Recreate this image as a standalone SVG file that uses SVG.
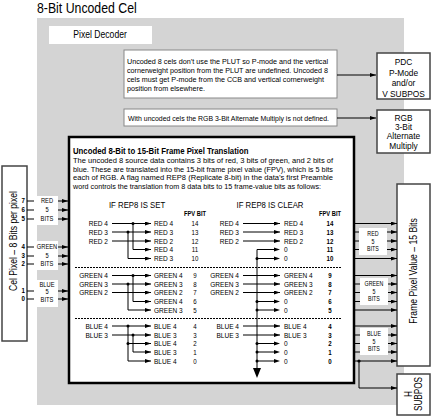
<svg xmlns="http://www.w3.org/2000/svg" width="432" height="417" viewBox="0 0 432 417">
<defs>
<marker id="ah" viewBox="0 0 6 4" refX="6" refY="2" markerWidth="6" markerHeight="4" markerUnits="userSpaceOnUse" orient="auto"><path d="M0,0 L6,2 L0,4z" fill="#000"/></marker>
<style>
text{font-family:"Liberation Sans",Arial,sans-serif;fill:#000}
.L{text-anchor:start;transform-box:fill-box;transform-origin:0% 50%;transform:scaleX(.82)}
.R{text-anchor:end;transform-box:fill-box;transform-origin:100% 50%;transform:scaleX(.82)}
.M{text-anchor:middle;transform-box:fill-box;transform-origin:50% 50%;transform:scaleX(.82)}
.M2{text-anchor:middle;transform-box:fill-box;transform-origin:50% 50%;transform:scaleX(.88)}
.ln{stroke:#000;stroke-width:1;fill:none}
.ar{stroke:#000;stroke-width:1;fill:none;marker-end:url(#ah)}
.lab{font-size:8px}
.num{font-size:7.5px}
.numb{font-size:7.5px;font-weight:bold}
.note{font-size:7.5px}
.para{font-size:8px}
.bx{font-size:9.5px}
.box{fill:#fff;stroke:#444;stroke-width:1.5}
.nbox{fill:#fff;stroke:#888;stroke-width:1}
.bl{font-size:7px}
.br{font-size:6.5px}
.dash{stroke:#000;stroke-width:1.2;stroke-dasharray:2,1;fill:none}
.bit{font-size:7.5px;font-weight:bold}
</style>
</defs>
<text class="L" x="37" y="13" font-size="15">8-Bit Uncoded Cel</text>
<rect x="37" y="18" width="367" height="387" fill="#d4d4d4"/>

<g id="pixel-decoder"><rect x="49" y="26" width="103" height="18" fill="#fff"/><text x="100" y="38.5" font-size="10.5" class="M">Pixel Decoder</text></g>

<g id="note1"><rect class="nbox" x="124" y="50" width="213" height="48"/>
<text class="note" x="127" y="64" textLength="201" lengthAdjust="spacingAndGlyphs">Uncoded 8 cels don’t use the PLUT so P-mode and the vertical</text>
<text class="note" x="127" y="73" textLength="201" lengthAdjust="spacingAndGlyphs">cornerweight position from the PLUT are undefined.  Uncoded 8</text>
<text class="note" x="127" y="82" textLength="197" lengthAdjust="spacingAndGlyphs">cels must get P-mode from the CCB and vertical cornerweight</text>
<text class="note" x="127" y="90.5" textLength="78" lengthAdjust="spacingAndGlyphs">position from elsewhere.</text></g>

<g id="note2"><rect class="nbox" x="124" y="109" width="213" height="17"/>
<text class="note" x="128" y="120.5" textLength="201" lengthAdjust="spacingAndGlyphs">With uncoded cels the RGB 3-Bit Alternate Multiply is not defined.</text></g>

<g id="pdc"><rect class="box" x="377" y="53" width="53" height="46"/>
<text x="403.5" y="65.5" class="M2 bx">PDC</text><text x="403.5" y="76" class="M2 bx">P-Mode</text><text x="403.5" y="86.5" class="M2 bx">and/or</text><text x="403.5" y="97" class="M2 bx">V SUBPOS</text></g>

<g id="rgb"><rect class="box" x="377" y="110" width="53" height="43"/>
<text x="403.5" y="121.5" class="M2 bx">RGB</text><text x="403.5" y="130.5" class="M2 bx">3-Bit</text><text x="403.5" y="139.5" class="M2 bx">Alternate</text><text x="403.5" y="149" class="M2 bx">Multiply</text></g>

<g id="cel-pixel"><rect class="box" x="2" y="166" width="25" height="175"/>
<text transform="translate(17,241) rotate(-90) scale(0.82,1)" text-anchor="middle" font-size="10.5">Cel Pixel – 8 Bits per pixel</text>
<text x="25" y="203.5" class="R bit">7</text><text x="25" y="212.5" class="R bit">6</text><text x="25" y="221.5" class="R bit">5</text>
<text x="25" y="249.5" class="R bit">4</text><text x="25" y="258.5" class="R bit">3</text><text x="25" y="266.5" class="R bit">2</text>
<text x="25" y="293.5" class="R bit">1</text><text x="25" y="301.5" class="R bit">0</text></g>

<g id="frame-pixel"><rect class="box" x="397" y="184" width="33" height="182"/>
<text transform="translate(417,271) rotate(-90) scale(0.82,1)" text-anchor="middle" font-size="10.5">Frame Pixel Value – 15 Bits</text></g>

<g id="h-subpos"><rect class="box" x="397" y="374" width="33" height="41"/>
<text transform="translate(411.5,394) rotate(-90) scale(0.82,1)" text-anchor="middle" font-size="10">H</text>
<text transform="translate(422,394) rotate(-90) scale(0.82,1)" text-anchor="middle" font-size="10">SUBPOS</text></g>

<g id="connectors">
<path class="ar" d="M337,75 H376"/>
<path class="ar" d="M337,118 H376"/>
<path class="ln" d="M27,201 H34 M27,210 H34 M27,219 H34 M27,247 H34 M27,256 H34 M27,264 H34 M27,291 H34 M27,299 H34"/>
<path class="ar" d="M58,201 H68"/><path class="ar" d="M58,210 H68"/><path class="ar" d="M58,219 H68"/>
<path class="ar" d="M58,247 H68"/><path class="ar" d="M58,256 H68"/><path class="ar" d="M58,264 H68"/>
<path class="ar" d="M58,291 H68"/><path class="ar" d="M58,299 H68"/>
<path class="ar" d="M355,223.5 H397"/><path class="ar" d="M355,232 H397"/><path class="ar" d="M355,241 H397"/><path class="ar" d="M355,249.5 H397"/><path class="ar" d="M355,258.5 H397"/>
<path class="ar" d="M355,275.5 H397"/><path class="ar" d="M355,284 H397"/><path class="ar" d="M355,292.5 H397"/><path class="ar" d="M355,301.5 H397"/><path class="ar" d="M355,310 H397"/>
<path class="ar" d="M355,326 H397"/><path class="ar" d="M355,335 H397"/><path class="ar" d="M355,343.5 H397"/><path class="ar" d="M355,352 H397"/><path class="ar" d="M355,361 H397"/>
<path class="ar" d="M359,361 V388 H397"/>
<circle cx="359" cy="361" r="1.6"/>
</g>

<g id="left-labels">
<rect x="36" y="196" width="22" height="29" fill="#fff"/>
<text class="M bl" x="47" y="203.5">RED</text><text class="M bl" x="47" y="212">5</text><text class="M bl" x="47" y="221">BITS</text>
<rect x="36" y="241" width="22" height="29" fill="#fff"/>
<text class="M bl" x="47" y="249.5">GREEN</text><text class="M bl" x="47" y="258">5</text><text class="M bl" x="47" y="266.5">BITS</text>
<rect x="36" y="280" width="22" height="27" fill="#fff"/>
<text class="M bl" x="47" y="287">BLUE</text><text class="M bl" x="47" y="294.5">5</text><text class="M bl" x="47" y="302">BITS</text>
</g>

<g id="right-labels">
<rect x="359" y="228" width="28" height="27" fill="#fff"/>
<text class="M br" x="373" y="236.3">RED</text><text class="M br" x="373" y="243.6">5</text><text class="M br" x="373" y="251">BITS</text>
<rect x="360" y="278" width="28" height="27" fill="#fff"/>
<text class="M br" x="374" y="286.3">GREEN</text><text class="M br" x="374" y="293.6">5</text><text class="M br" x="374" y="301">BITS</text>
<rect x="360" y="328" width="28" height="27" fill="#fff"/>
<text class="M br" x="374" y="336.3">BLUE</text><text class="M br" x="374" y="343.6">5</text><text class="M br" x="374" y="351">BITS</text>
</g>

<g id="translation">
<rect x="69" y="137" width="285" height="246" fill="#fff" stroke="#000" stroke-width="2.5"/>
<text class="L" x="73" y="154" font-size="9.5" font-weight="bold">Uncoded 8-Bit to 15-Bit Frame Pixel Translation</text>
<text class="para" x="73" y="163" textLength="260" lengthAdjust="spacingAndGlyphs">The uncoded 8 source data contains 3 bits of red, 3 bits of green, and 2 bits of</text>
<text class="para" x="73" y="171.5" textLength="260" lengthAdjust="spacingAndGlyphs">blue.  These are translated into the 15-bit frame pixel value (FPV), which is 5 bits</text>
<text class="para" x="73" y="180" textLength="260" lengthAdjust="spacingAndGlyphs">each of RGB.  A flag named REP8 (Replicate 8-bit) in the data’s first Preamble</text>
<text class="para" x="73" y="188.5" textLength="248" lengthAdjust="spacingAndGlyphs">word controls the translation from 8 data bits to 15 frame-value bits as follows:</text>

<text x="137" y="208.5" font-size="9.5" class="M">IF REP8 IS SET</text>
<text x="270" y="208.5" font-size="9.5" class="M">IF REP8 IS CLEAR</text>
<text x="195" y="216" font-size="7" font-weight="bold" class="M">FPV BIT</text>
<text x="330" y="216" font-size="7" font-weight="bold" class="M">FPV BIT</text>

<path class="dash" d="M75,267.5 H341 M75,318.5 H341"/>

<text x="108" y="226.3" class="R lab">RED 4</text><text x="108" y="234.8" class="R lab">RED 3</text><text x="108" y="243.8" class="R lab">RED 2</text>
<text x="154" y="226.3" class="L lab">RED 4</text><text x="154" y="234.8" class="L lab">RED 3</text><text x="154" y="243.8" class="L lab">RED 2</text><text x="154" y="252.3" class="L lab">RED 4</text><text x="154" y="261.3" class="L lab">RED 3</text>
<text x="108" y="278.3" class="R lab">GREEN 4</text><text x="108" y="286.8" class="R lab">GREEN 3</text><text x="108" y="295.3" class="R lab">GREEN 2</text>
<text x="154" y="278.3" class="L lab">GREEN 4</text><text x="154" y="286.8" class="L lab">GREEN 3</text><text x="154" y="295.3" class="L lab">GREEN 2</text><text x="154" y="304.3" class="L lab">GREEN 4</text><text x="154" y="312.8" class="L lab">GREEN 3</text>
<text x="108" y="328.8" class="R lab">BLUE 4</text><text x="108" y="337.8" class="R lab">BLUE 3</text>
<text x="154" y="328.8" class="L lab">BLUE 4</text><text x="154" y="337.8" class="L lab">BLUE 3</text><text x="154" y="346.3" class="L lab">BLUE 4</text><text x="154" y="354.8" class="L lab">BLUE 3</text><text x="154" y="363.8" class="L lab">BLUE 4</text>

<text class="M num" x="195" y="226.3">14</text><text class="M num" x="195" y="234.8">13</text><text class="M num" x="195" y="243.8">12</text><text class="M num" x="195" y="252.3">11</text><text class="M num" x="195" y="261.3">10</text>
<text class="M num" x="195" y="278.3">9</text><text class="M num" x="195" y="286.8">8</text><text class="M num" x="195" y="295.3">7</text><text class="M num" x="195" y="304.3">6</text><text class="M num" x="195" y="312.8">5</text>
<text class="M num" x="195" y="328.8">4</text><text class="M num" x="195" y="337.8">3</text><text class="M num" x="195" y="346.3">2</text><text class="M num" x="195" y="354.8">1</text><text class="M num" x="195" y="363.8">0</text>

<path class="ar" d="M112,223.5 H151"/><path class="ar" d="M112,232 H151"/><path class="ar" d="M112,241 H151"/>
<path class="ar" d="M133,223.5 V249.5 H151"/><path class="ar" d="M128,232 V258.5 H151"/>
<circle cx="133" cy="223.5" r="1.5"/><circle cx="128" cy="232" r="1.5"/>
<path class="ar" d="M112,275.5 H151"/><path class="ar" d="M112,284 H151"/><path class="ar" d="M112,292.5 H151"/>
<path class="ar" d="M133,275.5 V301.5 H151"/><path class="ar" d="M128,284 V310 H151"/>
<circle cx="133" cy="275.5" r="1.5"/><circle cx="128" cy="284" r="1.5"/>
<path class="ar" d="M112,326 H151"/><path class="ar" d="M112,335 H151"/>
<path class="ar" d="M128,326 V361 H151"/><path class="ar" d="M128,343.5 H151"/><path class="ar" d="M133,335 V352 H151"/>
<circle cx="128" cy="326" r="1.5"/><circle cx="133" cy="335" r="1.5"/><circle cx="128" cy="343.5" r="1.5"/>

<text x="239" y="226.3" class="R lab">RED 4</text><text x="239" y="234.8" class="R lab">RED 3</text><text x="239" y="243.8" class="R lab">RED 2</text>
<text x="284" y="226.3" class="L lab">RED 4</text><text x="284" y="234.8" class="L lab">RED 3</text><text x="284" y="243.8" class="L lab">RED 2</text><text x="284" y="252.3" class="L lab">0</text><text x="284" y="261.3" class="L lab">0</text>
<text x="239" y="278.3" class="R lab">GREEN 4</text><text x="239" y="286.8" class="R lab">GREEN 3</text><text x="239" y="295.3" class="R lab">GREEN 2</text>
<text x="284" y="278.3" class="L lab">GREEN 4</text><text x="284" y="286.8" class="L lab">GREEN 3</text><text x="284" y="295.3" class="L lab">GREEN 2</text><text x="284" y="304.3" class="L lab">0</text><text x="284" y="312.8" class="L lab">0</text>
<text x="239" y="328.8" class="R lab">BLUE 4</text><text x="239" y="337.8" class="R lab">BLUE 3</text>
<text x="284" y="328.8" class="L lab">BLUE 4</text><text x="284" y="337.8" class="L lab">BLUE 3</text><text x="284" y="346.3" class="L lab">0</text><text x="284" y="354.8" class="L lab">0</text><text x="284" y="363.8" class="L lab">0</text>

<text class="M numb" x="330" y="226.3">14</text><text class="M numb" x="330" y="234.8">13</text><text class="M numb" x="330" y="243.8">12</text><text class="M numb" x="330" y="252.3">11</text><text class="M numb" x="330" y="261.3">10</text>
<text class="M numb" x="330" y="278.3">9</text><text class="M numb" x="330" y="286.8">8</text><text class="M numb" x="330" y="295.3">7</text><text class="M numb" x="330" y="304.3">6</text><text class="M numb" x="330" y="312.8">5</text>
<text class="M numb" x="330" y="328.8">4</text><text class="M numb" x="330" y="337.8">3</text><text class="M numb" x="330" y="346.3">2</text><text class="M numb" x="330" y="354.8">1</text><text class="M numb" x="330" y="363.8">0</text>

<path class="ar" d="M243,223.5 H280"/><path class="ar" d="M243,232 H280"/><path class="ar" d="M243,241 H280"/>
<path class="ar" d="M243,275.5 H280"/><path class="ar" d="M243,284 H280"/><path class="ar" d="M243,292.5 H280"/>
<path class="ar" d="M243,326 H280"/><path class="ar" d="M243,335 H280"/>
<path class="ln" d="M275,249.5 H257 V370"/>
<path d="M280,249.5 l-6,-2 v4z M280,258.5 l-6,-2 v4z M280,301.5 l-6,-2 v4z M280,310 l-6,-2 v4z M280,343.5 l-6,-2 v4z M280,352 l-6,-2 v4z M280,361 l-6,-2 v4z" fill="#000"/>
<path class="ln" d="M257,258.5 H275 M257,301.5 H275 M257,310 H275 M257,343.5 H275 M257,352 H275 M257,361 H275"/>
<circle cx="257" cy="258.5" r="1.5"/><circle cx="257" cy="301.5" r="1.5"/><circle cx="257" cy="310" r="1.5"/><circle cx="257" cy="343.5" r="1.5"/><circle cx="257" cy="352" r="1.5"/><circle cx="257" cy="361" r="1.5"/>
<path d="M253,368 L261,368 L257,378z" fill="#000"/>
</g>
</svg>
